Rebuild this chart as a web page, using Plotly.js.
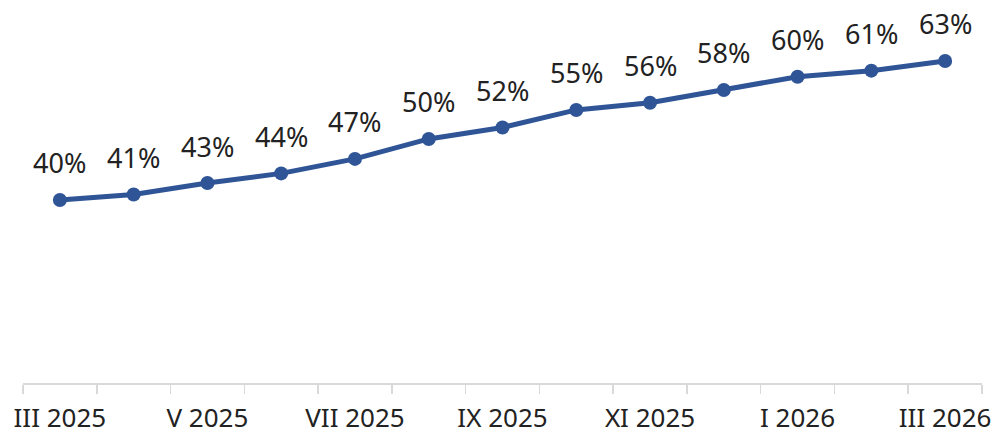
<!DOCTYPE html>
<html>
<head>
<meta charset="utf-8">
<script src="https://cdn.plot.ly/plotly-3.0.1.min.js"></script>
<style>
html,body{margin:0;padding:0;background:#fff;}
#chart{width:998px;height:435px;}
</style>
</head>
<body>
<div id="chart"></div>
<script>
// Months (Roman numeral month + year)
const categories = ["III 2025","IV 2025","V 2025","VI 2025","VII 2025","VIII 2025","IX 2025","X 2025","XI 2025","XII 2025","I 2026","II 2026","III 2026"];
// Shown tick labels (every other month)
const tickLabels = ["III 2025","","V 2025","","VII 2025","","IX 2025","","XI 2025","","I 2026","","III 2026"];
// Series values (percent)
const values = [40.0, 40.9, 42.8, 44.4, 46.8, 50.1, 52.0, 54.9, 56.1, 58.2, 60.4, 61.4, 63.0];
// Data labels
const valueLabels = ["40%","41%","43%","44%","47%","50%","52%","55%","56%","58%","60%","61%","63%"];

const lineColor = "#2f5597";
const fontFamily = "'Noto Sans', 'Open Sans', sans-serif";

const trace = {
  x: categories,
  y: values,
  type: "scatter",
  mode: "lines+markers",
  line: {color: lineColor, width: 5},
  marker: {color: lineColor, size: 14},
  hoverinfo: "skip"
};

const annotations = categories.map((c, i) => ({
  x: c, y: values[i], xref: "x", yref: "y",
  text: valueLabels[i], showarrow: false,
  xanchor: "center", yanchor: "middle", yshift: 37,
  font: {family: fontFamily, size: 27, color: "#222222"}
}));

const layout = {
  width: 998, height: 435,
  margin: {l: 23, r: 16, t: 20, b: 52, pad: 0},
  paper_bgcolor: "#ffffff", plot_bgcolor: "#ffffff",
  showlegend: false,
  xaxis: {
    type: "category",
    range: [-0.5, 12.5],
    tickmode: "array",
    tickvals: categories,
    ticktext: tickLabels,
    tickson: "boundaries",
    tickangle: 0,
    ticks: "outside", ticklen: 9, tickwidth: 1.5, tickcolor: "#d9d9d9",
    showline: true, linecolor: "#d9d9d9", linewidth: 1.5,
    showgrid: false, zeroline: false,
    tickfont: {family: fontFamily, size: 26, color: "#222222"},
    ticklabelstandoff: 11
  },
  yaxis: {
    range: [9.72, 69.78],
    visible: false, showgrid: false, zeroline: false
  },
  annotations: annotations
};

Plotly.newPlot("chart", [trace], layout, {displayModeBar: false, staticPlot: true});
</script>
</body>
</html>
